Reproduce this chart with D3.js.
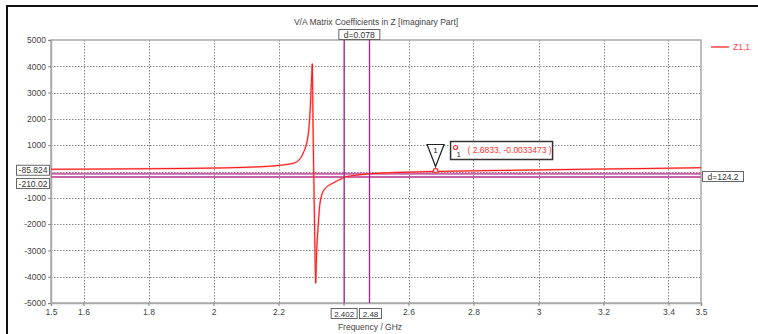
<!DOCTYPE html>
<html>
<head>
<meta charset="utf-8">
<script src="https://cdn.jsdelivr.net/npm/d3@7"></script>
<style>
  body { margin: 0; background: #fff; }
  svg { display: block; font-family: "Liberation Sans", "DejaVu Sans", sans-serif; }
</style>
</head>
<body>
<svg></svg>
<script>
const SVGsize = {w: 758, h: 334};
const margins = {t: 40, r: 57, b: 31, l: 51};
const size = {w: SVGsize.w - margins.l - margins.r, h: SVGsize.h - margins.t - margins.b};

// data
const freqs = [1.5, 1.6, 1.8, 2.0, 2.1, 2.2, 2.25, 2.276, 2.292, 2.299, 2.302, 2.304,
  2.3065, 2.309, 2.3115, 2.3145, 2.317, 2.3225, 2.3277, 2.34, 2.3677, 2.398, 2.402,
  2.44, 2.48, 2.55, 2.6833, 2.8, 3.0, 3.2, 3.4, 3.5];
const imagZ = [85, 90, 105, 130, 160, 230, 330, 700, 1460, 2720, 3600, 4100,
  1500, -500, -2500, -4250, -3200, -2000, -1200, -700, -440, -250, -225,
  -140, -86, -45, -0.0033473, 25, 60, 95, 125, 145];
const xTicks = [1.5, 1.6, 1.8, 2, 2.2, 2.4, 2.6, 2.8, 3, 3.2, 3.4, 3.5];
const xTickLabels = ["1.5", "1.6", "1.8", "2", "2.2", "", "2.6", "2.8", "3", "3.2", "3.4", "3.5"];
const xGrid = [1.6, 1.8, 2, 2.2, 2.4, 2.6, 2.8, 3, 3.2, 3.4];
const yTicks = [5000, 4000, 3000, 2000, 1000, 0, -1000, -2000, -3000, -4000, -5000];
const yTickLabels = ["5000", "4000", "3000", "2000", "1000", "", "-1000", "-2000", "-3000", "-4000", "-5000"];
const xCursors = [2.402, 2.48];
const yCursors = [-85.824, -210.02];
const yCursorLabels = ["-85.824", "-210.02"];
const marker = {f: 2.6833, v: -0.0033473, label: "( 2.6833, -0.0033473 )"};

const svg = d3.select('svg')
    .attr('width', SVGsize.w)
    .attr('height', SVGsize.h);

// outer frame
svg.append("path")
    .attr("d", "M7,334 L7,6 L758,6")
    .attr("fill", "none").attr("stroke", "#111").attr("stroke-width", 2);

svg.append("text")
    .attr("x", 376).attr("y", 25)
    .attr("text-anchor", "middle")
    .attr("font-size", 8.5).attr("fill", "#444")
    .text("V/A Matrix Coefficients in Z [Imaginary Part]");

const scaleX = d3.scaleLinear().domain([1.5, 3.5]).range([margins.l, margins.l + size.w]);
const scaleY = d3.scaleLinear().domain([-5000, 5000]).range([margins.t + size.h, margins.t]);

// grid
const grid = svg.append("g").attr("stroke", "#888").attr("stroke-width", 1).attr("stroke-dasharray", "1.5 1.5");
grid.selectAll(".vg").data(xGrid).enter().append("line")
    .attr("x1", d => Math.round(scaleX(d)) + 0.5).attr("x2", d => Math.round(scaleX(d)) + 0.5)
    .attr("y1", margins.t).attr("y2", margins.t + size.h);
grid.selectAll(".hg").data(yTicks.slice(1, -1)).enter().append("line")
    .attr("x1", margins.l).attr("x2", margins.l + size.w)
    .attr("y1", d => Math.round(scaleY(d)) + 0.5).attr("y2", d => Math.round(scaleY(d)) + 0.5);

// plot frame
svg.append("rect")
    .attr("x", margins.l).attr("y", margins.t)
    .attr("width", size.w).attr("height", size.h)
    .attr("fill", "none").attr("stroke", "#aaa").attr("stroke-width", 1.5);

// axes
const xAxis = svg.append("g")
    .attr("transform", `translate(0, ${margins.t + size.h})`)
    .call(d3.axisBottom(scaleX).tickValues(xTicks).tickSize(3).tickFormat((d, i) => xTickLabels[i]));
xAxis.select(".domain").attr("stroke", "#aaa").attr("stroke-width", 1.5);
xAxis.selectAll(".tick line").attr("stroke", "#888");
xAxis.selectAll("text").attr("font-size", 8.5).attr("fill", "#444").attr("font-family", "Liberation Sans");

const yAxis = svg.append("g")
    .attr("transform", `translate(${margins.l}, 0)`)
    .call(d3.axisLeft(scaleY).tickValues(yTicks).tickSize(3).tickFormat((d, i) => yTickLabels[i]));
yAxis.select(".domain").attr("stroke", "#aaa").attr("stroke-width", 1.5);
yAxis.selectAll(".tick line").attr("stroke", "#888");
yAxis.selectAll("text").attr("font-size", 8.5).attr("fill", "#444").attr("font-family", "Liberation Sans").attr("x", -5);

svg.append("text")
    .attr("x", 370).attr("y", 330)
    .attr("text-anchor", "middle")
    .attr("font-size", 8.5).attr("fill", "#444")
    .text("Frequency / GHz");

// horizontal cursors
svg.selectAll(".hc").data(yCursors).enter().append("line")
    .attr("x1", margins.l).attr("x2", margins.l + size.w)
    .attr("y1", d => scaleY(d)).attr("y2", d => scaleY(d))
    .attr("stroke", "#c862a8").attr("stroke-width", 1.8);

// curve
const line = d3.line()
    .x((d, i) => scaleX(freqs[i]))
    .y(d => scaleY(d))
    .curve(d3.curveMonotoneX);
svg.append("path")
    .datum(imagZ)
    .attr("fill", "none")
    .attr("stroke", "#ff8080").attr("stroke-width", 2).attr("opacity", 0.6)
    .attr("d", line);
svg.append("path")
    .datum(imagZ)
    .attr("fill", "none")
    .attr("stroke", "#f00").attr("stroke-width", 0.9)
    .attr("d", line);

// vertical cursors
svg.selectAll(".vc").data(xCursors).enter().append("line")
    .attr("x1", d => scaleX(d)).attr("x2", d => scaleX(d))
    .attr("y1", margins.t - 2).attr("y2", margins.t + size.h)
    .attr("stroke", "#a8208a").attr("stroke-width", 1.3);

function labelBox(cx, cy, txt, anchor, w, fs) {
    const g = svg.append("g");
    const h = 10;
    let x0 = anchor === "start" ? cx : anchor === "end" ? cx - w : cx - w / 2;
    g.append("rect")
        .attr("x", x0 + 0.5).attr("y", cy - h / 2 + 0.5)
        .attr("width", w).attr("height", h)
        .attr("fill", "#fff").attr("stroke", "#666").attr("stroke-width", 1);
    g.append("text")
        .attr("x", x0 + w / 2 + 0.5).attr("y", cy + 3.5)
        .attr("text-anchor", "middle")
        .attr("font-size", fs || 8.5).attr("fill", "#333")
        .text(txt);
}

// cursor labels
labelBox((scaleX(xCursors[0]) + scaleX(xCursors[1])) / 2 + 2, 34, "d=" + d3.format(".3")(xCursors[1] - xCursors[0]), "middle", 41);
labelBox(scaleX(xCursors[0]) - 0.5, 313, String(xCursors[0]), "middle", 26, 8);
labelBox(scaleX(xCursors[1]) + 0.5, 313, String(xCursors[1]), "middle", 22, 8);
labelBox(margins.l - 2, scaleY(yCursors[0]) - 4, yCursorLabels[0], "end", 33);
labelBox(margins.l - 2, scaleY(yCursors[1]) + 6, yCursorLabels[1], "end", 33);
labelBox(margins.l + size.w + 1, scaleY(yCursors[1]) - 1, "d=" + d3.format(".4")(yCursors[0] - yCursors[1]), "start", 41);

// marker
const mx = scaleX(marker.f), my = scaleY(marker.v);
svg.append("circle")
    .attr("cx", mx).attr("cy", my - 1).attr("r", 2.2)
    .attr("fill", "#fff").attr("stroke", "#f33").attr("stroke-width", 1.2);
svg.append("path")
    .attr("d", `M${mx - 8.5},${my - 27} L${mx + 8.5},${my - 27} L${mx},${my - 5} Z`)
    .attr("fill", "#fff").attr("stroke", "#222").attr("stroke-width", 1.2);
svg.append("text")
    .attr("x", mx).attr("y", my - 18.5)
    .attr("text-anchor", "middle").attr("font-size", 8).attr("fill", "#222")
    .text("1");

const bx = mx + 15, by = my - 30;
svg.append("rect")
    .attr("x", bx).attr("y", by).attr("width", 102).attr("height", 18)
    .attr("fill", "#fff").attr("stroke", "#333").attr("stroke-width", 1.5);
svg.append("circle")
    .attr("cx", bx + 5).attr("cy", by + 6).attr("r", 2)
    .attr("fill", "#fff").attr("stroke", "#f33").attr("stroke-width", 1.2);
svg.append("text")
    .attr("x", bx + 6).attr("y", by + 15)
    .attr("font-size", 8).attr("fill", "#333")
    .text("1");
svg.append("text")
    .attr("x", bx + 17).attr("y", by + 11.5)
    .attr("font-size", 8.5).attr("fill", "#f33")
    .text(marker.label);

// legend
svg.append("line")
    .attr("x1", 711).attr("x2", 729).attr("y1", 47).attr("y2", 47)
    .attr("stroke", "#f44").attr("stroke-width", 1.5);
svg.append("text")
    .attr("x", 733).attr("y", 50)
    .attr("font-size", 8.5).attr("fill", "#f44")
    .text("Z1,1");
</script>
</body>
</html>
